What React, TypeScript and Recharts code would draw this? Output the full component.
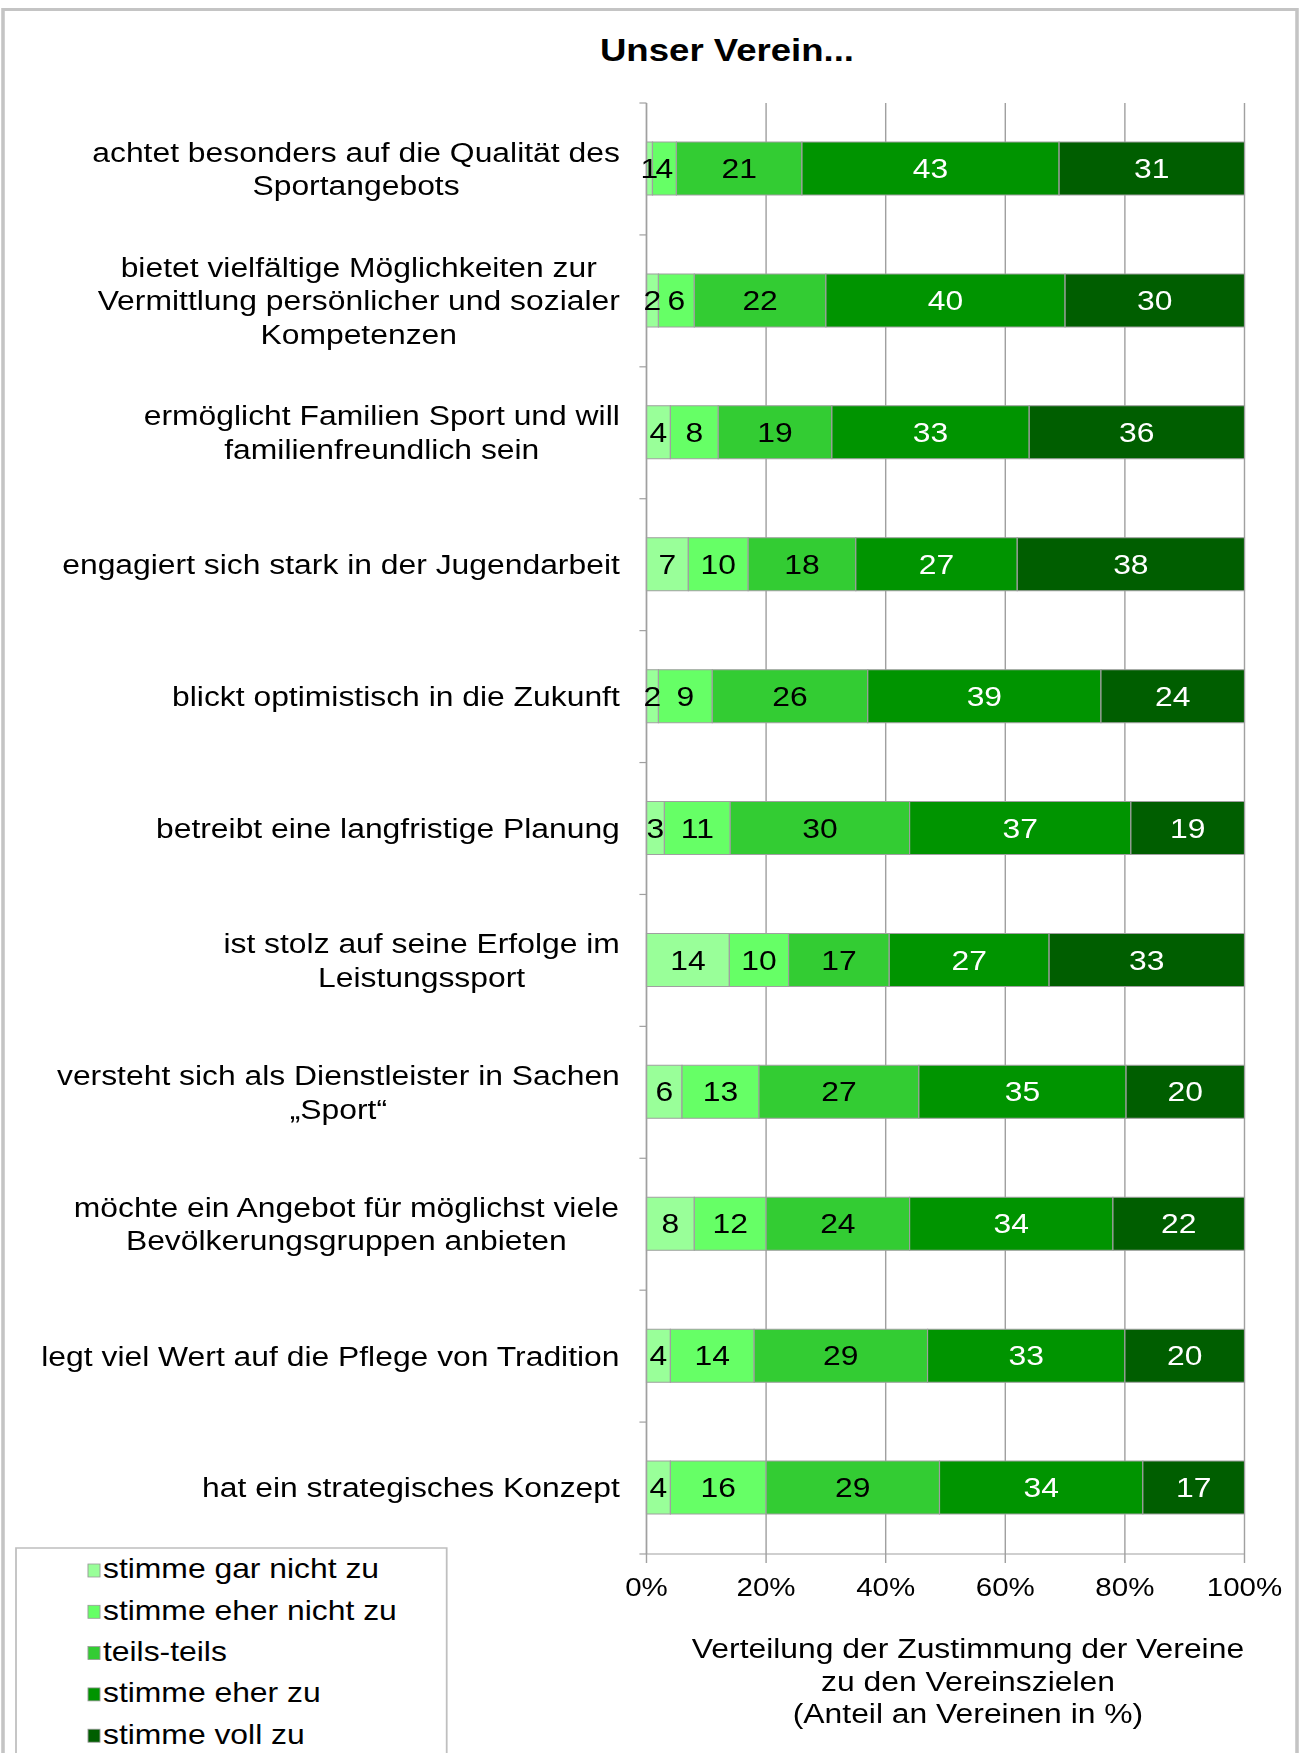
// "Unser Verein..." — 100% stacked horizontal bars of how strongly clubs agree
// with each club goal. The reference picture is stretched sideways, so the chart
// is drawn narrower and widened with scaleX(S).

import { Bar, BarChart, CartesianGrid, LabelList, XAxis, YAxis } from "recharts";

const CATEGORIES: string[][] = [
  ["achtet besonders auf die Qualität des", "Sportangebots"],
  ["bietet vielfältige Möglichkeiten zur", "Vermittlung persönlicher und sozialer", "Kompetenzen"],
  ["ermöglicht Familien Sport und will", "familienfreundlich sein"],
  ["engagiert sich stark in der Jugendarbeit"],
  ["blickt optimistisch in die Zukunft"],
  ["betreibt eine langfristige Planung"],
  ["ist stolz auf seine Erfolge im", "Leistungssport"],
  ["versteht sich als Dienstleister in Sachen", "„Sport“"],
  ["möchte ein Angebot für möglichst viele", "Bevölkerungsgruppen anbieten"],
  ["legt viel Wert auf die Pflege von Tradition"],
  ["hat ein strategisches Konzept"],
];

const GAR_NICHT = [1, 2, 4, 7, 2, 3, 14, 6, 8, 4, 4];
const EHER_NICHT = [4, 6, 8, 10, 9, 11, 10, 13, 12, 14, 16];
const TEILS = [21, 22, 19, 18, 26, 30, 17, 27, 24, 29, 29];
const EHER_ZU = [43, 40, 33, 27, 39, 37, 27, 35, 34, 33, 34];
const VOLL = [31, 30, 36, 38, 24, 19, 33, 20, 22, 20, 17];

const SERIES_KEYS = ["garNicht", "eherNicht", "teils", "eherZu", "voll"];
const SERIES_NAMES = ["stimme gar nicht zu", "stimme eher nicht zu", "teils-teils", "stimme eher zu", "stimme voll zu"];
const SERIES_COLORS = ["#99ff99", "#66ff66", "#33cc33", "#009400", "#005e00"];
const LABEL_COLORS = ["#000", "#000", "#000", "#fff", "#fff"];

const X_TICKS = [0, 20, 40, 60, 80, 100];
const AXIS_TITLE = ["Verteilung der Zustimmung der Vereine", "zu den Vereinszielen", "(Anteil an Vereinen in %)"];
const TITLE = "Unser Verein...";

const data = CATEGORIES.map((lines, i) => ({
  label: lines.join(" "),
  garNicht: GAR_NICHT[i],
  eherNicht: EHER_NICHT[i],
  teils: TEILS[i],
  eherZu: EHER_ZU[i],
  voll: VOLL[i],
}));

// layout (x values are page pixels divided by S)
const S = 1.18;
const PAGE_W = 1301;
const PAGE_H = 1753;
const W = PAGE_W / S;
const PLOT_LEFT = 646.5 / S;
const PLOT_RIGHT = 1244.5 / S;
const PLOT_TOP = 103;
const PLOT_BOTTOM = 1554;
const BAND = (PLOT_BOTTOM - PLOT_TOP) / CATEGORIES.length;
const LABEL_SIZE = 27;
const LINE_H = 33.5;
const FONT = "'Liberation Sans', Arial, sans-serif";
const GRAY = "#a0a0a0";

let ctx: CanvasRenderingContext2D | null = null;
function measure(text: string, size: number) {
  if (!ctx) ctx = document.createElement("canvas").getContext("2d");
  if (!ctx) return text.length * size * 0.5;
  ctx.font = `${size}px 'Liberation Sans'`;
  return ctx.measureText(text).width;
}

function CategoryTick(props: any) {
  const { y, payload } = props;
  const idx = data.findIndex((d) => d.label === payload.value);
  const lines = CATEGORIES[idx] || [String(payload.value)];
  const right = PLOT_LEFT - 22.5;
  const maxW = Math.max(...lines.map((l) => measure(l, LABEL_SIZE)));
  const cx = right - maxW / 2;
  const first = y - ((lines.length - 1) * LINE_H) / 2;
  return (
    <g>
      <line x1={PLOT_LEFT - 6} x2={PLOT_LEFT} y1={y - BAND / 2} y2={y - BAND / 2} stroke={GRAY} strokeWidth={1.2} />
      {idx === CATEGORIES.length - 1 && (
        <line x1={PLOT_LEFT - 6} x2={PLOT_LEFT} y1={y + BAND / 2} y2={y + BAND / 2} stroke={GRAY} strokeWidth={1.2} />
      )}
      <text textAnchor="middle" fontSize={LABEL_SIZE} fill="#000" fontFamily={FONT}>
        {lines.map((l, i) => (
          <tspan key={i} x={cx} y={first + i * LINE_H} dy="0.35em">{l}</tspan>
        ))}
      </text>
    </g>
  );
}

const renderAxisTitle = () => (
  <text textAnchor="middle" fontSize={LABEL_SIZE} fill="#000" fontFamily={FONT}>
    {AXIS_TITLE.map((l, i) => (
      <tspan key={i} x={968 / S} y={1649 + i * 32.5} dy="0.35em">{l}</tspan>
    ))}
  </text>
);

function Overlay() {
  return (
    <svg width={W} height={PAGE_H} style={{ position: "absolute", left: 0, top: 0 }}>
      <rect x={3 / S} y={9.5} width={(1297 - 3) / S} height={PAGE_H + 20} fill="#fff" stroke="#c4c4c4" strokeWidth={3} />
      <text x={727 / S} y={61} textAnchor="middle" fontSize={31} fontWeight="bold" fontFamily={FONT} fill="#000">
        {TITLE}
      </text>
      <rect x={16 / S} y={1548} width={(446.7 - 16) / S} height={300} fill="#fff" stroke="#bfbfbf" strokeWidth={1.5} />
      {SERIES_NAMES.map((name, i) => {
        const cy = 1569 + i * 41.3;
        return (
          <g key={name}>
            <rect x={88 / S} y={cy - 5} width={12 / S} height={13} fill={SERIES_COLORS[i]} stroke="#999" strokeWidth={0.8} />
            <text x={103 / S} y={cy} dy="0.35em" fontSize={LABEL_SIZE} fontFamily={FONT} fill="#000">{name}</text>
          </g>
        );
      })}
    </svg>
  );
}

export default function App() {
  return (
    <div style={{ position: "absolute", left: 0, top: 0, width: PAGE_W, height: PAGE_H, overflow: "hidden", background: "#fff" }}>
      <div style={{ position: "absolute", left: 0, top: 0, width: W, height: PAGE_H, transform: `scaleX(${S})`, transformOrigin: "0 0", fontFamily: FONT }}>
        <Overlay />
        <div style={{ position: "absolute", left: 0, top: 0 }}>
          <BarChart
            width={W}
            height={PAGE_H}
            data={data}
            layout="vertical"
            stackOffset="expand"
            margin={{ top: PLOT_TOP, right: W - PLOT_RIGHT, bottom: 0, left: 0 }}
          >
            <CartesianGrid horizontal={false} stroke={GRAY} strokeWidth={1.2} />
            <XAxis
              type="number"
              domain={[0, 1]}
              ticks={X_TICKS.map((t) => t / 100)}
              tickFormatter={(v: number) => `${Math.round(v * 100)}%`}
              height={PAGE_H - PLOT_BOTTOM}
              tickSize={9}
              tickMargin={15}
              axisLine={{ stroke: GRAY, strokeWidth: 1.2 }}
              tickLine={{ stroke: GRAY, strokeWidth: 1.2 }}
              tick={{ fill: "#000", fontSize: 25, fontFamily: FONT }}
              interval={0}
              label={renderAxisTitle}
            />
            <YAxis
              type="category"
              dataKey="label"
              width={PLOT_LEFT}
              interval={0}
              tickLine={false}
              axisLine={{ stroke: GRAY, strokeWidth: 1.2 }}
              tick={<CategoryTick />}
            />
            {SERIES_KEYS.map((key, i) => (
              <Bar
                key={key}
                dataKey={key}
                name={SERIES_NAMES[i]}
                stackId="a"
                fill={SERIES_COLORS[i]}
                stroke={GRAY}
                strokeWidth={1}
                barSize={53}
                isAnimationActive={false}
              >
                <LabelList dataKey={key} position="center" fill={LABEL_COLORS[i]} fontSize={LABEL_SIZE} fontFamily={FONT} />
              </Bar>
            ))}
          </BarChart>
        </div>
      </div>
    </div>
  );
}
